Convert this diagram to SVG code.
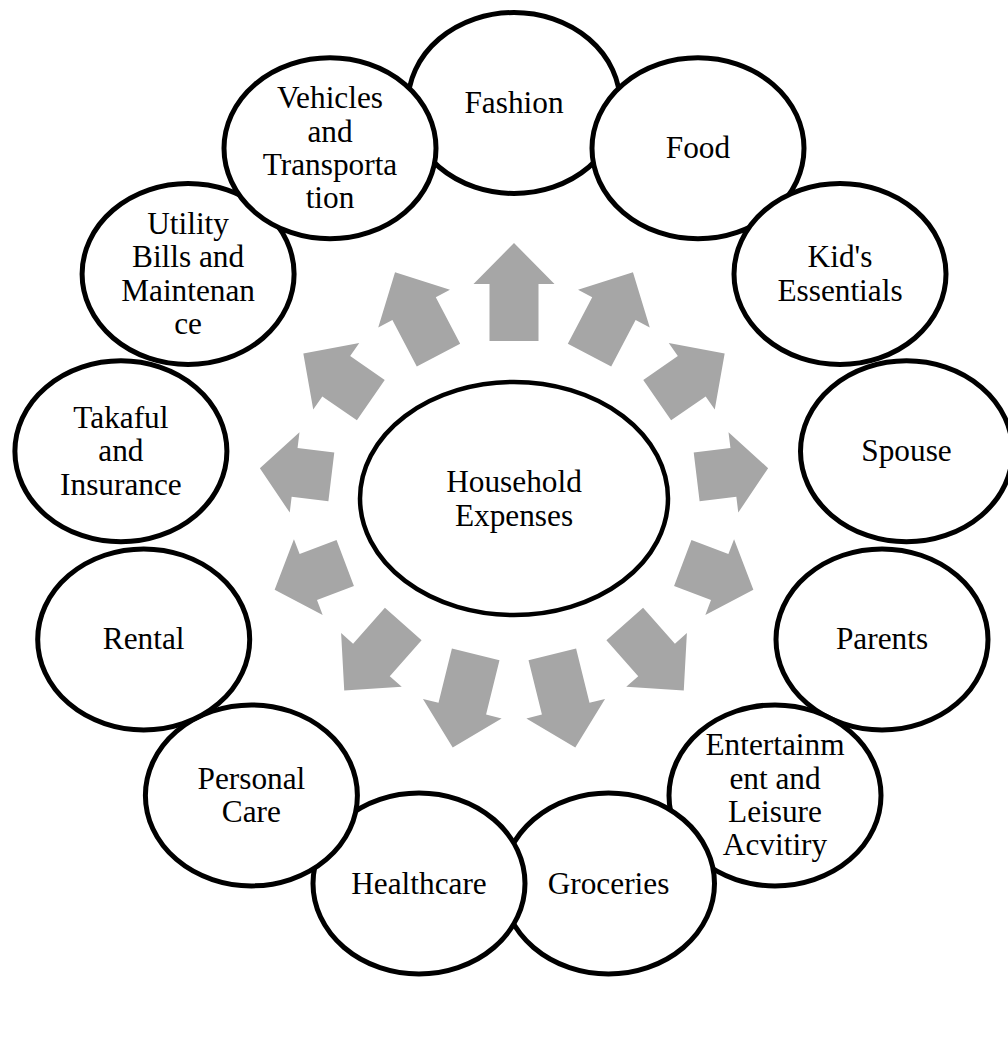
<svg xmlns="http://www.w3.org/2000/svg" xmlns:xlink="http://www.w3.org/1999/xlink" width="1008" height="1057" viewBox="0 0 1008 1057">
<style>
.node ellipse{fill:#fff;stroke:#000;stroke-width:5}
.center ellipse{fill:#fff;stroke:#000;stroke-width:4.5}
text{font-family:"Liberation Serif","Times New Roman",serif;font-size:31.3px;fill:#000;text-anchor:middle}
.arr{fill:#a6a6a6}
</style>
<defs>
<path id="a0" d="M0,-256 L40.5,-215 L24.5,-215 L24.5,-158 L-24.5,-158 L-24.5,-215 L-40.5,-215Z"/>
<path id="a1" d="M0,-256 L40.5,-215 L24.5,-215 L24.5,-162.5 L-24.5,-162.5 L-24.5,-215 L-40.5,-215Z"/>
<path id="a2" d="M0,-256 L40.5,-216 L24.5,-216 L24.5,-174 L-24.5,-174 L-24.5,-216 L-40.5,-216Z"/>
<path id="a3" d="M0,-256 L40.5,-221 L24.5,-221 L24.5,-184 L-24.5,-184 L-24.5,-221 L-40.5,-221Z"/>
<path id="a4" d="M0,-256 L40.5,-220 L24.5,-220 L24.5,-180.5 L-24.5,-180.5 L-24.5,-220 L-40.5,-220Z"/>
<path id="a5" d="M0,-256 L40.5,-215 L24.5,-215 L24.5,-167 L-24.5,-167 L-24.5,-215 L-40.5,-215Z"/>
<path id="a6" d="M0,-256 L40.5,-216 L24.5,-216 L24.5,-160 L-24.5,-160 L-24.5,-216 L-40.5,-216Z"/>
</defs>
<rect width="1008" height="1057" fill="#fff"/>
<g id="connectors" class="arr">
<use xlink:href="#a0" href="#a0" transform="translate(514,499) rotate(0)"/>
<use xlink:href="#a1" href="#a1" transform="translate(514,499) rotate(27.69)"/>
<use xlink:href="#a2" href="#a2" transform="translate(514,499) rotate(55.38)"/>
<use xlink:href="#a3" href="#a3" transform="translate(514,499) rotate(83.08)"/>
<use xlink:href="#a4" href="#a4" transform="translate(514,499) rotate(110.77)"/>
<use xlink:href="#a5" href="#a5" transform="translate(514,499) rotate(138.46)"/>
<use xlink:href="#a6" href="#a6" transform="translate(514,499) rotate(166.15)"/>
<use xlink:href="#a6" href="#a6" transform="translate(514,499) rotate(193.85)"/>
<use xlink:href="#a5" href="#a5" transform="translate(514,499) rotate(221.54)"/>
<use xlink:href="#a4" href="#a4" transform="translate(514,499) rotate(249.23)"/>
<use xlink:href="#a3" href="#a3" transform="translate(514,499) rotate(276.92)"/>
<use xlink:href="#a2" href="#a2" transform="translate(514,499) rotate(304.62)"/>
<use xlink:href="#a1" href="#a1" transform="translate(514,499) rotate(332.31)"/>
</g>
<g id="household" class="center">
<ellipse cx="514" cy="498.5" rx="154" ry="116.5"/>
<text x="514" y="492.3">Household<tspan x="514" dy="33.3">Expenses</tspan></text>
</g>
<g id="fashion" class="node">
<ellipse cx="514" cy="103" rx="106" ry="90.5"/>
<text x="514" y="113">Fashion</text>
</g>
<g id="food" class="node">
<ellipse cx="698" cy="148.3" rx="106" ry="90.5"/>
<text x="698" y="158.3">Food</text>
</g>
<g id="kids-essentials" class="node">
<ellipse cx="840" cy="274" rx="106" ry="90.5"/>
<text x="840" y="267.3">Kid's<tspan x="840" dy="33.3">Essentials</tspan></text>
</g>
<g id="spouse" class="node">
<ellipse cx="906.5" cy="451.3" rx="106" ry="90.5"/>
<text x="906.5" y="461">Spouse</text>
</g>
<g id="parents" class="node">
<ellipse cx="882" cy="639.4" rx="106" ry="90.5"/>
<text x="882" y="649.4">Parents</text>
</g>
<g id="entertainment" class="node">
<ellipse cx="775" cy="795.4" rx="106" ry="90.5"/>
<text x="775" y="755.4">Entertainm<tspan x="775" dy="33.3">ent and</tspan><tspan x="775" dy="33.3">Leisure</tspan><tspan x="775" dy="33.3">Acvitiry</tspan></text>
</g>
<g id="groceries" class="node">
<ellipse cx="608.5" cy="883.5" rx="106" ry="90.5"/>
<text x="608.5" y="893.5">Groceries</text>
</g>
<g id="healthcare" class="node">
<ellipse cx="419" cy="883.5" rx="106" ry="90.5"/>
<text x="419" y="893.5">Healthcare</text>
</g>
<g id="personal-care" class="node">
<ellipse cx="251.4" cy="795.4" rx="106" ry="90.5"/>
<text x="251.4" y="788.7">Personal<tspan x="251.4" dy="33.3">Care</tspan></text>
</g>
<g id="rental" class="node">
<ellipse cx="143.7" cy="639.4" rx="106" ry="90.5"/>
<text x="143.7" y="649.4">Rental</text>
</g>
<g id="takaful" class="node">
<ellipse cx="120.9" cy="451.3" rx="106" ry="90.5"/>
<text x="120.9" y="428">Takaful<tspan x="120.9" dy="33.3">and</tspan><tspan x="120.9" dy="33.3">Insurance</tspan></text>
</g>
<g id="utility" class="node">
<ellipse cx="188.1" cy="274" rx="106" ry="90.5"/>
<text x="188.1" y="234">Utility<tspan x="188.1" dy="33.3">Bills and</tspan><tspan x="188.1" dy="33.3">Maintenan</tspan><tspan x="188.1" dy="33.3">ce</tspan></text>
</g>
<g id="vehicles" class="node">
<ellipse cx="330" cy="148.3" rx="106" ry="90.5"/>
<text x="330" y="108.3">Vehicles<tspan x="330" dy="33.3">and</tspan><tspan x="330" dy="33.3">Transporta</tspan><tspan x="330" dy="33.3">tion</tspan></text>
</g>
</svg>
